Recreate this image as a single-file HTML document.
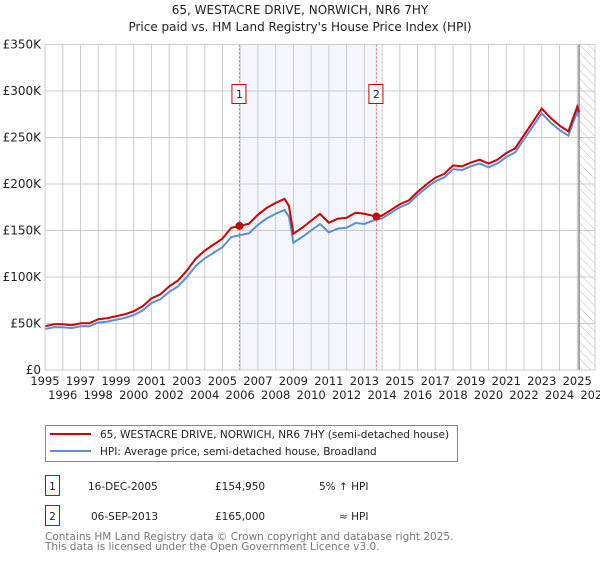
<!DOCTYPE html>
<html><head><meta charset="utf-8"><style>
body{margin:0;background:#fff;font-family:"DejaVu Sans","Liberation Sans",sans-serif;}
svg text{font-family:"DejaVu Sans","Liberation Sans",sans-serif;}
</style></head><body>
<svg id="chart" width="600" height="560" viewBox="0 0 600 560">
<defs><pattern id="hatch" width="6" height="6" patternUnits="userSpaceOnUse" patternTransform="rotate(-45)"><line x1="0" y1="0" x2="0" y2="6" stroke="#bbb" stroke-width="1"/></pattern></defs>
<text x="300" y="14" text-anchor="middle" font-size="12" fill="#222">65, WESTACRE DRIVE, NORWICH, NR6 7HY</text>
<text x="300" y="31" text-anchor="middle" font-size="12" fill="#222">Price paid vs. HM Land Registry's House Price Index (HPI)</text>
<g id="plot"></g>
<g>
<rect x="45.5" y="425.5" width="412" height="36" fill="#fff" stroke="#888"/>
<line x1="50" y1="434" x2="91" y2="434" stroke="#cc0000" stroke-width="2"/>
<text x="100" y="438" font-size="10.5" fill="#222">65, WESTACRE DRIVE, NORWICH, NR6 7HY (semi-detached house)</text>
<line x1="50" y1="451" x2="91" y2="451" stroke="#5b8fd4" stroke-width="2"/>
<text x="100" y="455" font-size="10.5" fill="#222">HPI: Average price, semi-detached house, Broadland</text>
</g>
<g font-size="10.5" fill="#222">
<rect x="45.5" y="475.5" width="14" height="20" fill="#fff" stroke="#cc0000"/>
<text x="52.5" y="490" text-anchor="middle">1</text>
<text x="88" y="490">16-DEC-2005</text>
<text x="215" y="490">£154,950</text>
<text x="319" y="490">5% ↑ HPI</text>
<rect x="45.5" y="505.5" width="14" height="20" fill="#fff" stroke="#cc0000"/>
<text x="52.5" y="520" text-anchor="middle">2</text>
<text x="91" y="520">06-SEP-2013</text>
<text x="215" y="520">£165,000</text>
<text x="339" y="520">≈ HPI</text>
</g>
<text x="45" y="540" font-size="10.5" fill="#777">Contains HM Land Registry data © Crown copyright and database right 2025.</text>
<text x="45" y="550" font-size="10.5" fill="#777">This data is licensed under the Open Government Licence v3.0.</text>
</svg>
<script>
const hpiYears=[1995,1995.5,1996,1996.5,1997,1997.5,1998,1998.5,1999,1999.5,2000,2000.5,2001,2001.5,2002,2002.5,2003,2003.5,2004,2004.5,2005,2005.5,2006,2006.5,2007,2007.5,2008,2008.5,2008.75,2009,2009.5,2010,2010.5,2011,2011.5,2012,2012.5,2013,2013.68,2014,2014.5,2015,2015.5,2016,2016.5,2017,2017.5,2018,2018.5,2019,2019.5,2020,2020.5,2021,2021.5,2022,2022.5,2023,2023.5,2024,2024.5,2025,2025.1];
const hpiValues=[44,46,46,45,47,47,51,52,54,56,59,64,72,76,84,90,100,112,120,126,132,143,145,147,156,163,168,172,165,137,143,150,157,148,152,153,158,157,162,163,169,175,179,188,196,203,207,216,215,219,222,218,222,229,234,248,262,276,266,258,252,278,272];
const sales=[{t:2005.96,v:154.95},{t:2013.68,v:165}];
const yTicks=[0,50,100,150,200,250,300,350];
const yTickLabels=["£0","£50K","£100K","£150K","£200K","£250K","£300K","£350K"];
const xTicks=[1995,1996,1997,1998,1999,2000,2001,2002,2003,2004,2005,2006,2007,2008,2009,2010,2011,2012,2013,2014,2015,2016,2017,2018,2019,2020,2021,2022,2023,2024,2025,2026];
const X0=45,X1=595,Y0=370,Y1=44.5;
const xs=t=>X0+(t-1995)/31*(X1-X0);
const ys=v=>Y0-v/350*(Y0-Y1);
const NS="http://www.w3.org/2000/svg";
const g=document.getElementById('plot');
function mk(tag,attrs,parent){const e=document.createElementNS(NS,tag);for(const k in attrs)e.setAttribute(k,attrs[k]);(parent||g).appendChild(e);return e;}
let r=mk('rect',{x:xs(sales[0].t),y:Y1,width:xs(sales[1].t)-xs(sales[0].t),height:Y0-Y1,fill:'#eef2fc',opacity:0.7});


let h=mk('rect',{x:xs(2025.1),y:Y1,width:X1-xs(2025.1),height:Y0-Y1,fill:'url(#hatch)'});


yTicks.forEach((v,i)=>{
 let l=mk('line',{x1:X0,x2:X1,y1:ys(v),y2:ys(v),stroke:'#ccc'});
 
 
 let t=mk('text',{x:X0-4,y:ys(v)+4,'text-anchor':'end','font-size':12,fill:'#222'});
 t.textContent=yTickLabels[i];
 
 
});
xTicks.forEach((y,i)=>{
 let l=mk('line',{x1:xs(y),x2:xs(y),y1:Y1,y2:Y0,stroke:'#ccc'});
 
 
 let t=mk('text',{x:xs(y),y:i%2===0?385:399,'text-anchor':'middle','font-size':11.5,fill:'#222'});
 t.textContent=y;
 
 
});
let el=mk('line',{x1:xs(2025.1),x2:xs(2025.1),y1:Y1,y2:Y0,stroke:'#888','stroke-width':1.5});


function hpiAt(t){for(let i=1;i<hpiYears.length;i++){if(t<=hpiYears[i]){const f=(t-hpiYears[i-1])/(hpiYears[i]-hpiYears[i-1]);return hpiValues[i-1]+f*(hpiValues[i]-hpiValues[i-1]);}}return hpiValues[hpiValues.length-1];}
let hp=mk('polyline',{points:hpiYears.map((t,i)=>xs(t)+','+ys(hpiValues[i])).join(' '),fill:'none',stroke:'#5b8fd4','stroke-width':2});


const r1=sales[0].v/hpiAt(sales[0].t),r2=sales[1].v/hpiAt(sales[1].t);
const redPts=hpiYears.map((t,i)=>{const k=t<sales[1].t?r1:r2;return xs(t)+','+ys(hpiValues[i]*k);});
let rp=mk('polyline',{points:redPts.join(' '),fill:'none',stroke:'#cc0000','stroke-width':2});


sales.forEach((s,i)=>{
 let v=mk('line',{x1:xs(s.t),x2:xs(s.t),y1:Y1,y2:Y0,stroke:'#e06060','stroke-dasharray':'2,2'});
 
 
 let d=mk('circle',{cx:xs(s.t),cy:ys(s.v),r:4,fill:'#cc0000'});
 
 
 let b=mk('rect',{x:xs(s.t)-7.5,y:84.5,width:14,height:19,fill:'#fff',stroke:'#cc0000'});
 
 
 let t=mk('text',{x:xs(s.t),y:98,'text-anchor':'middle','font-size':11,fill:'#222'});
 t.textContent=String(i+1);
 
 
});
let ax=mk('rect',{x:X0,y:Y1,width:X1-X0,height:Y0-Y1,fill:'none',stroke:'#ccc'});


</script>
</body></html>
